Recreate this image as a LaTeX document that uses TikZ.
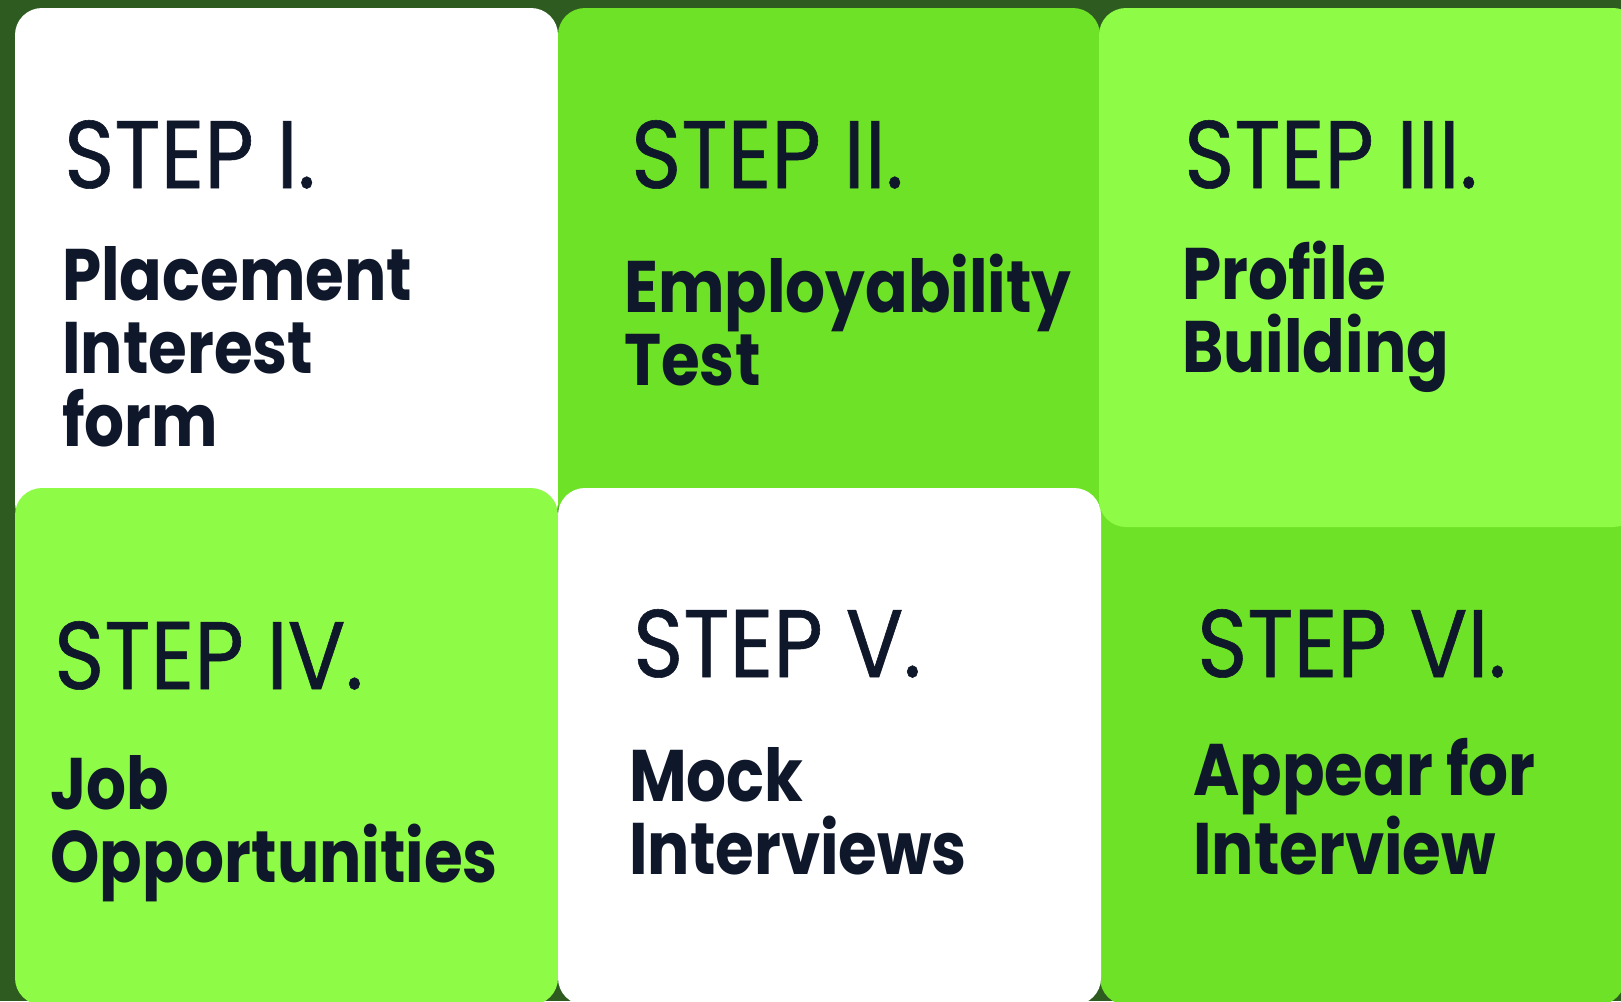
\documentclass[tikz,border=0pt]{standalone}
\usepackage{fontspec}
\setmainfont{Poppins}
\newfontfamily\stepfont{Poppins}[FakeStretch=0.89,FakeBold=0.6]
\newfontfamily\titlefont{Poppins}[FakeStretch=0.86]
\definecolor{bgdark}{RGB}{46,92,32}
\definecolor{midgreen}{RGB}{110,226,38}
\definecolor{lightgreen}{RGB}{142,252,70}
\definecolor{ink}{RGB}{15,23,42}
\begin{document}
\begin{tikzpicture}[x=1pt,y=-1pt,
  card/.style={rounded corners=27pt},
  steplabel/.style={anchor=base west,inner sep=0pt,text=ink,font=\stepfont\fontsize{96}{96}\selectfont},
  titlelabel/.style={anchor=base west,inner sep=0pt,text=ink,align=left,font=\titlefont\fontsize{73}{73}\selectfont\bfseries}]
\fill[bgdark] (0,0) rectangle (1621,1001);
\useasboundingbox (0,0) rectangle (1621,1001);
% cards
\fill[white,card] (15,8) rectangle (558,530);
\fill[midgreen,card] (558,8) rectangle (1100,530);
\fill[midgreen,card] (1100,470) rectangle (1625,1005);
\fill[lightgreen,card] (1099,8) rectangle (1640,527);
\fill[lightgreen,card] (15,488) rectangle (558,1005);
\fill[white,card] (558,488) rectangle (1101,1005);
% texts (title anchors are at the baseline of the last line)
\node[steplabel] (s1) at (64,188) {STEP I.};
\node[titlelabel] (t1) at (62,446) {Placement\\Interest\\form};
\node[steplabel] (s2) at (631,188) {STEP II.};
\node[titlelabel] (t2) at (624,385) {Employability\\Test};
\node[steplabel] (s3) at (1184,188) {STEP III.};
\node[titlelabel] (t3) at (1182,372) {Profile\\Building};
\node[steplabel] (s4) at (54,689) {STEP IV.};
\node[titlelabel] (t4) at (50,882) {Job\\Opportunities};
\node[steplabel] (s5) at (633,677) {STEP V.};
\node[titlelabel] (t5) at (629,874) {Mock\\Interviews};
\node[steplabel] (s6) at (1197,677) {STEP VI.};
\node[titlelabel] (t6) at (1193,874) {Appear for\\Interview};
\end{tikzpicture}
\end{document}
